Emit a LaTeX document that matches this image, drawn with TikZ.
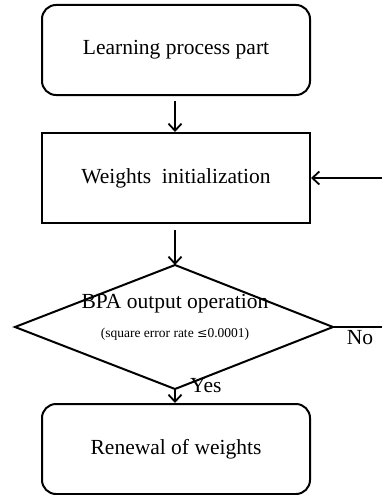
\documentclass[tikz,border=0pt]{standalone}
\usepackage{fontspec}
\setmainfont{Liberation Serif}
\newfontfamily\symfont{DejaVu Serif}
\usetikzlibrary{arrows.meta}
\begin{document}
\begin{tikzpicture}[x=1pt,y=-1pt,
  box/.style={draw,line width=2pt,minimum width=268pt,minimum height=90pt,font=\fontsize{21.5}{24}\selectfont},
  rbox/.style={box,rounded corners=14pt},
  arr/.style={line width=1.8pt,-{Straight Barb[length=7pt,width=13pt,line width=1.8pt]}},
  lbl/.style={font=\fontsize{21.5}{24}\selectfont}]
\useasboundingbox (0,0) rectangle (382,495);
\node[rbox] (learn) at (176,50) {Learning process part};
\node[box] (init) at (176,178) {Weights\ \ initialization};
\coordinate (top) at (175,265);
\coordinate (left) at (15,327);
\coordinate (right) at (333,327);
\coordinate (bot) at (175,389);
\draw[line width=2pt,line join=miter] (top) -- (right) -- (bot) -- (left) -- cycle;
\node[lbl] (bpa) at (175,304) {BPA output operation};
\node[font=\fontsize{13.5}{16}\selectfont] (cond) at (175,334) {(square error rate {\symfont\fontsize{12.5}{16}\selectfont ≤}0.0001)};
\node[rbox] (renew) at (176,449) {Renewal of weights};
\coordinate (noend) at (382,327);
\coordinate (fb) at (382,178);
\draw[arr] (learn.south -| top) ++(0,5) -- (init.north -| top);
\draw[arr] (init.south -| top) ++(0,6) -- (top);
\draw[arr] (bot) -- (renew.north -| bot);
\draw[line width=1.8pt] (right) -- (noend);
\draw[arr] (fb) -- (init.east);
\node[lbl,anchor=north] (no) at (360,327) {No};
\node[lbl,anchor=west,inner sep=0pt] (yes) at (190,386) {Yes};
\end{tikzpicture}
\end{document}
